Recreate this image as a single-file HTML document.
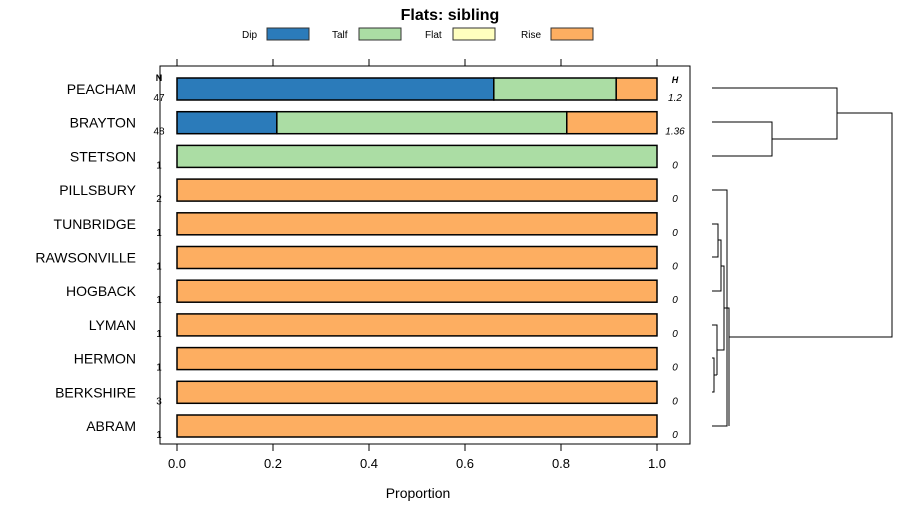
<!DOCTYPE html>
<html><head><meta charset="utf-8"><style>
body{margin:0;background:#fff;font-family:"Liberation Sans",sans-serif}
svg text{font-family:"Liberation Sans",sans-serif}
</style></head><body>
<svg id="c" width="900" height="520" xmlns="http://www.w3.org/2000/svg">
<text x="450" y="20" text-anchor="middle" font-size="16" font-weight="bold">Flats: sibling</text>
<g id="legend"></g>
<rect x="160" y="66" width="530" height="378" fill="none" stroke="#000"/>
<g id="bars"></g><g id="axes"></g><g id="dend" fill="none" stroke="#000" stroke-width="1"></g>
<text x="418" y="498" text-anchor="middle" font-size="14">Proportion</text>
</svg>
<script>
const categories=["PEACHAM","BRAYTON","STETSON","PILLSBURY","TUNBRIDGE","RAWSONVILLE","HOGBACK","LYMAN","HERMON","BERKSHIRE","ABRAM"];
const dip=[0.66,0.208,0,0,0,0,0,0,0,0,0];
const talf=[0.255,0.604,1,0,0,0,0,0,0,0,0];
const flat=[0,0,0,0,0,0,0,0,0,0,0];
const rise=[0.085,0.188,0,1,1,1,1,1,1,1,1];
const nVals=["47","48","1","2","1","1","1","1","1","3","1"];
const hVals=["1.2","1.36","0","0","0","0","0","0","0","0","0"];
const ticks=[0,0.2,0.4,0.6,0.8,1.0];
const tickLabels=["0.0","0.2","0.4","0.6","0.8","1.0"];
const seriesNames=["Dip","Talf","Flat","Rise"];
const colors=["#2b7bba","#abdda4","#ffffbf","#fdae61"];
const NS="http://www.w3.org/2000/svg";
const sx=v=>177+v*480;
const sy=i=>89+i*33.7;
function mk(p,t,a){const e=document.createElementNS(NS,t);for(const k in a)e.setAttribute(k,a[k]);p.appendChild(e);return e;}
const bars=document.getElementById('bars'),axes=document.getElementById('axes'),leg=document.getElementById('legend');
const lx=[242,332,425,521];
const sw=[267,359,453,551];
seriesNames.forEach((s,j)=>{
 const t=mk(leg,'text',{x:lx[j],y:38,'font-size':10});t.textContent=s;
 
 
 const r=mk(leg,'rect',{x:sw[j],y:28,width:42,height:12,fill:colors[j],stroke:'#333'});
 
 
});
const series=[dip,talf,flat,rise];
categories.forEach((c,i)=>{
 const y=sy(i);
 const l=mk(axes,'text',{x:136,y:y+5,'text-anchor':'end','font-size':14});l.textContent=c;
 
 
 let acc=0;
 series.forEach((arr,j)=>{
  if(arr[i]>0){const r=mk(bars,'rect',{x:sx(acc),y:y-11,width:arr[i]*480,height:22,fill:colors[j],stroke:'#000','stroke-width':1.5});
  
  }
  acc+=arr[i];
 });
 const n=mk(axes,'text',{x:159,y:y+12,'text-anchor':'middle','font-size':10});n.textContent=nVals[i];
 
 
 const h=mk(axes,'text',{x:675,y:y+12,'text-anchor':'middle','font-size':10,'font-style':'italic'});h.textContent=hVals[i];
 
 
});
let t1=mk(axes,'text',{x:159,y:81,'text-anchor':'middle','font-size':9,'font-weight':'bold'});t1.textContent='N';

let t2=mk(axes,'text',{x:675,y:83,'text-anchor':'middle','font-size':9,'font-weight':'bold','font-style':'italic'});t2.textContent='H';

ticks.forEach((v,k)=>{
 mk(axes,'line',{x1:sx(v),x2:sx(v),y1:444,y2:451,stroke:'#000'});
 mk(axes,'line',{x1:sx(v),x2:sx(v),y1:59,y2:66,stroke:'#000'});
 const t=mk(axes,'text',{x:sx(v),y:468,'text-anchor':'middle','font-size':13});t.textContent=tickLabels[k];
 
 
});
const d=document.getElementById('dend');
const P=s=>{const e=mk(d,'path',{d:s});};
P('M712 88H837V139H772');P('M712 122H772V156H712');P('M837 113H892V337H729');
P('M712 190H727V426H712');P('M712 224H718V257H712');P('M718 240H721V291H712');
P('M712 325H717V375');P('M712 358H714V392H712');P('M714 375H717');P('M721 266H724V350H717');P('M724 308H729V426');
</script>
</body></html>
